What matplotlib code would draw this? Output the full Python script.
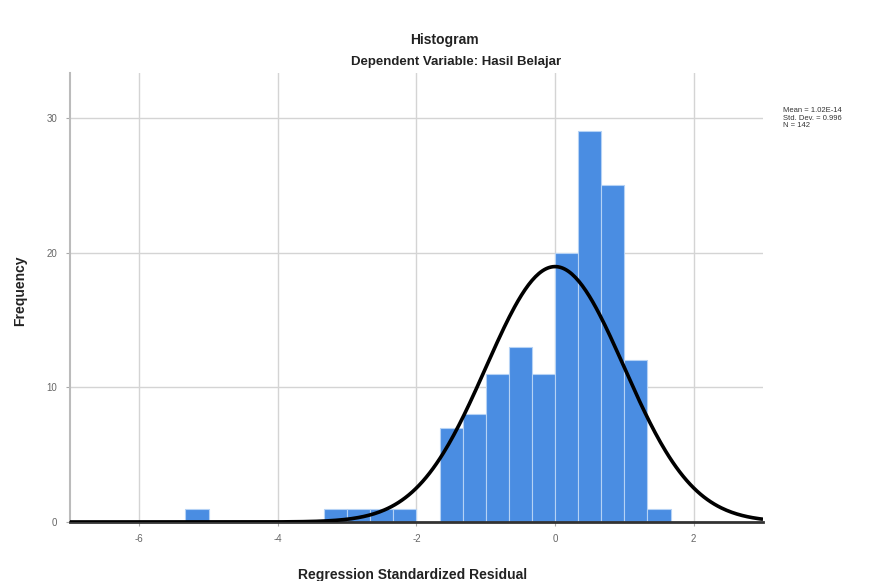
import matplotlib.pyplot as plt
import numpy as np

plt.rcParams['font.family'] = ['Liberation Sans', 'DejaVu Sans']

# histogram bins (left edge) and counts
bin_left = [-5.333, -3.333, -3.0, -2.667, -2.333,
            -1.667, -1.333, -1.0, -0.667, -0.333,
            0.0, 0.333, 0.667, 1.0, 1.333]
counts = [1, 1, 1, 1, 1,
          7, 8, 11, 13, 11,
          20, 29, 25, 12, 1]
bin_width = 1 / 3

# summary stats shown in the legend
mean = 1.02e-14
std_dev = 0.996
n_obs = 142

x_ticks = [-6, -4, -2, 0, 2]
y_ticks = [0, 10, 20, 30]

fig = plt.figure(figsize=(8.74, 5.81), dpi=100)
ax = fig.add_axes([0.080, 0.1016, 0.793, 0.772])

ax.bar(bin_left, counts, width=bin_width, align='edge',
       color='#4a8de2', edgecolor='#b5d2f5', linewidth=0.8, zorder=2)

# normal curve scaled to the histogram
xs = np.linspace(-7, 3, 400)
ys = n_obs * bin_width / (std_dev * np.sqrt(2 * np.pi)) * np.exp(-0.5 * ((xs - mean) / std_dev) ** 2)
ax.plot(xs, ys, color='black', lw=2.6, zorder=3, solid_capstyle='butt')

ax.set_xlim(-7, 3)
ax.set_ylim(0, 33.3)
ax.set_xticks(x_ticks)
ax.set_yticks(y_ticks)
ax.set_xticklabels([str(t) for t in x_ticks], fontsize=7, color='#666666')
ax.set_yticklabels([str(t) for t in y_ticks], fontsize=7, color='#666666')
ax.tick_params(length=3, color='#aaaaaa', width=0.8, pad=6)
ax.grid(True, color='#d4d4d4', lw=1.0, zorder=0)
ax.set_axisbelow(True)

for s in ['top', 'right']:
    ax.spines[s].set_visible(False)
ax.spines['left'].set_color('#bbbbbb')
ax.spines['left'].set_linewidth(1.5)
ax.spines['bottom'].set_color('#333333')
ax.spines['bottom'].set_linewidth(2)

fig.text(0.509, 0.931, 'Histogram', ha='center', va='center', fontsize=10, fontweight='bold', color='#222222')
fig.text(0.522, 0.893, 'Dependent Variable: Hasil Belajar', ha='center', va='center',
         fontsize=9.5, fontweight='bold', color='#222222')
fig.text(0.472, 0.010, 'Regression Standardized Residual', ha='center', va='center',
         fontsize=10, fontweight='bold', color='#222222')
fig.text(0.023, 0.50, 'Frequency', ha='center', va='center', rotation=90,
         fontsize=10, fontweight='bold', color='#222222')

legend_txt = f'Mean = {mean:.2E}\nStd. Dev. = {std_dev:.3f}\nN = {n_obs}'
fig.text(0.896, 0.815, legend_txt, ha='left', va='top', fontsize=5.5, color='#333333', linespacing=1.1)

fig.savefig('out.png', dpi=100)
